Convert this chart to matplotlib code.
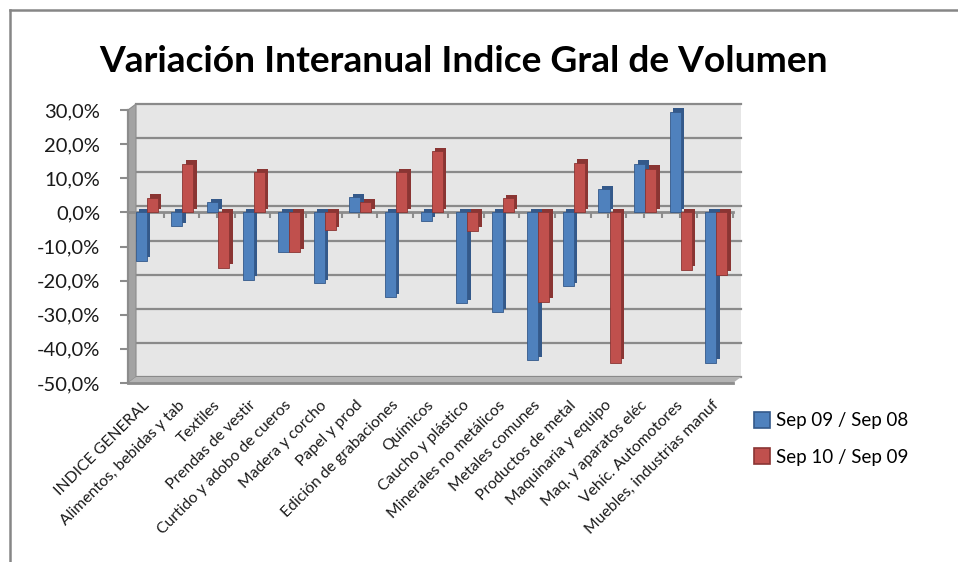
import matplotlib
matplotlib.use('Agg')
import matplotlib.pyplot as plt
from matplotlib.transforms import offset_copy, ScaledTranslation
from matplotlib.lines import Line2D
from matplotlib.patches import Polygon, Rectangle
import numpy as np

categories = ['INDICE GENERAL', 'Alimentos, bebidas y tab', 'Textiles', 'Prendas de vestir',
              'Curtido y adobo de cueros', 'Madera y corcho', 'Papel y prod',
              'Edición de grabaciones', 'Químicos', 'Caucho y plástico',
              'Minerales no metálicos', 'Metales comunes', 'Productos de metal',
              'Maquinaria y equipo', 'Maq. y aparatos eléc', 'Vehíc. Automotores',
              'Muebles, industrias manuf']
sep09_sep08 = [-14.2, -4.0, 2.9, -19.8, -11.5, -20.7, 4.5, -24.9, -2.5, -26.7,
               -29.2, -43.3, -21.7, 6.8, 14.3, 29.5, -44.0]
sep10_sep09 = [4.3, 14.2, -16.3, 11.8, -11.7, -5.2, 2.9, 11.8, 17.9, -5.4,
               4.1, -26.2, 14.6, -44.0, 12.8, -16.8, -18.3]
series_names = ['Sep 09 / Sep 08', 'Sep 10 / Sep 09']
yticks = [30, 20, 10, 0, -10, -20, -30, -40, -50]
title = 'Variación Interanual Indice Gral de Volumen'

FONT = 'Lato'
plt.rcParams['font.family'] = [FONT, 'DejaVu Sans']

W, H = 958, 562
fig = plt.figure(figsize=(W / 100, H / 100), dpi=100)
fig.patch.set_facecolor('white')


def px(x0, y0, x1, y1):
    return [x0 / W, 1 - y1 / H, (x1 - x0) / W, (y1 - y0) / H]


ax = fig.add_axes(px(128, 110, 733, 383))
n = len(categories)
ax.set_xlim(0, n)
ax.set_ylim(min(yticks), max(yticks))
ax.set_facecolor('none')
for s in ax.spines.values():
    s.set_visible(False)

DX, DY = 8, 6   # depth offset (pixels)
grid_c = '#8A8A8A'
back_tr = offset_copy(ax.transData, fig, x=DX, y=DY, units='dots')


def back(x, y):
    d = ax.transData.transform((x, y)) + np.array([DX, DY])
    return ax.transData.inverted().transform(d)


ymin, ymax = min(yticks), max(yticks)
# back wall
ax.add_patch(Rectangle((0, ymin), n, ymax - ymin, transform=back_tr,
                       facecolor='#E6E6E6', edgecolor='none', zorder=0, clip_on=False))
# gridlines on back wall
for y in yticks:
    ax.add_line(Line2D([0, n], [y, y], transform=back_tr, color=grid_c, lw=1.6,
                       zorder=0.5, clip_on=False))
# left wall
lw_pts = [(0, ymin), (0, ymax), tuple(back(0, ymax)), tuple(back(0, ymin))]
ax.add_patch(Polygon(lw_pts, closed=True, facecolor='#A3A3A3', edgecolor='#8C8C8C',
                     lw=0.8, zorder=0.6, clip_on=False))
# floor
fl_pts = [(0, ymin), (n, ymin), tuple(back(n, ymin)), tuple(back(0, ymin))]
ax.add_patch(Polygon(fl_pts, closed=True, facecolor='#B4B4B4', edgecolor='none',
                     zorder=0.6, clip_on=False))
ax.add_line(Line2D([0, n], [ymin, ymin], color='#8C8C8C', lw=2.0, zorder=0.7,
                   clip_on=False))

# zero line with ticks
ax.add_line(Line2D([0, n], [0, 0], color='#8C8C8C', lw=2.0, zorder=1, clip_on=False))
tx = np.arange(0, 2 * n + 1) * 0.5
ax.plot(tx, np.zeros_like(tx), linestyle='none', marker=3, markersize=4,
        markeredgewidth=1.5, color='#8C8C8C', zorder=1, clip_on=False)

# bars with pseudo-3D depth
x = np.arange(n) + 0.5
w = 0.31
shift = 0.03
SD = 3.5
shadow_tr = offset_copy(ax.transData, fig, x=SD, y=SD, units='dots')
cols = [('#4F81BD', '#34598A'), ('#C0504D', '#8A3533')]
for k, (vals, (fc, dc)) in enumerate(zip([sep09_sep08, sep10_sep09], cols)):
    xs = x + (k - 0.5) * w + shift
    sh = ax.bar(xs, vals, width=w, color=dc, edgecolor='none', zorder=2 + k * 2)
    for r in sh:
        r.set_transform(shadow_tr)
        r.set_clip_on(False)
    fr = ax.bar(xs, vals, width=w, color=fc, edgecolor=dc, linewidth=0.6,
                zorder=3 + k * 2)
    for r in fr:
        r.set_clip_on(False)

# y axis
ax.spines['left'].set_visible(True)
ax.spines['left'].set_color('#8C8C8C')
ax.spines['left'].set_linewidth(1.6)
ax.set_yticks(yticks)
ax.set_yticklabels([('%.1f%%' % v).replace('.', ',') for v in yticks])
ax.tick_params(axis='y', length=6, width=1.5, color='#8C8C8C', labelsize=14.5,
               labelcolor='#1A1A1A', pad=14)

# x labels
ax.set_xticks(x)
ax.set_xticklabels(categories, rotation=45, ha='right', rotation_mode='anchor',
                   fontsize=11.3, color='#1A1A1A')
ax.tick_params(axis='x', length=0, pad=11)
for lab in ax.get_xticklabels():
    lab.set_transform(lab.get_transform() + ScaledTranslation(-4 / 100, 0, fig.dpi_scale_trans))

# title
fig.text(464 / W, 1 - 62 / H, title, ha='center', va='center', fontsize=26.7,
         fontweight='bold', color='black')

# legend
handles = [Line2D([], [], linestyle='none', marker='s', markersize=11,
                  markerfacecolor=fc, markeredgecolor=dc, markeredgewidth=1.2)
           for fc, dc in cols]
fig.legend(handles, series_names, loc='center left',
           bbox_to_anchor=(738 / W, 1 - 439 / H), frameon=False, fontsize=13.5,
           labelspacing=1.05, handlelength=0.8, handletextpad=0.35)

# outer frame (partially visible)
fig.add_artist(Line2D([10 / W, 10 / W], [0, 1 - 10 / H], transform=fig.transFigure,
                      color='#868686', lw=1.8))
fig.add_artist(Line2D([10 / W, 1], [1 - 10 / H, 1 - 10 / H], transform=fig.transFigure,
                      color='#868686', lw=1.8))

fig.savefig('out.png', dpi=100, facecolor='white')
